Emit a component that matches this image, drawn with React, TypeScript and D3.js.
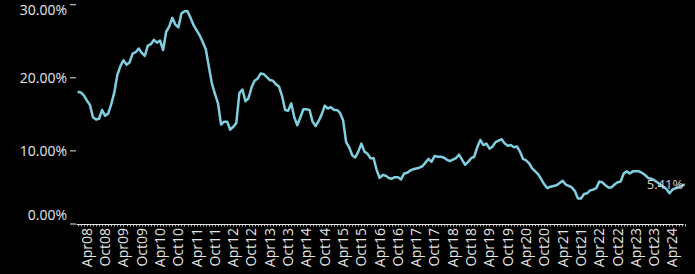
import { useEffect, useRef } from 'react';
import * as d3 from 'd3';

// monthly values, Jan 2008 .. Aug 2024 (in %)
const values = [
  18.1, 18.0, 17.6, 16.9, 16.3, 14.6, 14.3, 14.4, 15.6, 14.8, 15.1, 16.4,
  18.0, 20.4, 21.6, 22.4, 21.8, 22.1, 23.3, 23.5, 24.0, 23.4, 23.0, 24.4,
  24.6, 25.2, 24.8, 25.1, 23.8, 26.3, 27.0, 28.2, 27.3, 26.9, 28.8, 29.1,
  29.1, 28.2, 27.2, 26.5, 25.8, 24.9, 23.9, 21.5, 19.2, 17.8, 16.5, 13.6,
  14.0, 14.0, 12.9, 13.3, 13.8, 17.9, 18.4, 16.8, 17.2, 18.7, 19.6, 19.9,
  20.6, 20.5, 20.1, 19.7, 19.6, 19.1, 18.8, 17.5, 15.6, 15.5, 16.5, 14.6,
  13.5, 14.6, 15.7, 15.7, 15.6, 14.0, 13.4, 14.1, 15.0, 16.2, 15.8, 16.0,
  15.6, 15.6, 15.2, 14.2, 11.2, 10.5, 9.4, 9.1, 9.9, 11.0, 9.9, 9.6,
  9.0, 9.0, 7.4, 6.3, 6.7, 6.6, 6.3, 6.2, 6.4, 6.4, 6.1, 6.9,
  7.0, 7.3, 7.5, 7.6, 7.7, 7.9, 8.4, 8.9, 8.5, 9.3, 9.2, 9.2,
  9.1, 8.8, 8.6, 8.8, 9.0, 9.5, 8.8, 8.1, 8.5, 9.0, 9.2, 10.5,
  11.5, 10.8, 11.0, 10.3, 10.6, 11.2, 11.4, 11.6, 11.0, 10.7, 10.8, 10.5,
  10.6, 9.9, 8.9, 8.7, 8.3, 7.6, 7.2, 6.8, 6.1, 5.4, 4.9, 5.1,
  5.2, 5.3, 5.6, 5.9, 5.4, 5.2, 5.0, 4.5, 3.5, 3.5, 4.1, 4.2,
  4.6, 4.7, 4.9, 5.8, 5.7, 5.3, 5.0, 5.0, 5.4, 5.7, 5.8, 6.9,
  7.2, 6.9, 7.2, 7.2, 7.2, 7.0, 6.7, 6.3, 6.2, 6.0, 5.7, 5.4,
  5.1, 4.8, 4.2, 4.7, 4.9, 5.0, 5.2, 5.41,
];
const startDate = new Date(2008, 0, 1);
const yTicks = [0, 10, 20, 30];
const labelMonths = [3, 9]; // Apr, Oct

const width = 695;
const height = 274;
const left = 77.7;
const right = 684.7;
const top = 4.7;
const bottom = 224;
const lineColor = '#80cfe0';
const textColor = '#e6e6e6';
const font = "'Open Sans', sans-serif";

const App = () => {
  const svgRef = useRef<SVGSVGElement>(null!);

  useEffect(() => {
    const svg = d3.select(svgRef.current);
    svg.selectAll('*').remove();

    const months = values.map((_, i) => d3.timeMonth.offset(startDate, i));
    const x = d3.scaleLinear().domain([0, values.length - 1]).range([left, right]);
    const y = d3.scaleLinear().domain([0, 30]).range([bottom, top]);
    const fmtY = d3.format('.2f');
    const fmtX = d3.timeFormat('%b%y');

    // y axis
    const gy = svg.append('g').attr('transform', `translate(76,0)`);
    yTicks.forEach(t => {
      gy.append('line')
        .attr('x1', -6)
        .attr('x2', 0)
        .attr('y1', y(t))
        .attr('y2', y(t))
        .attr('stroke', textColor)
        .attr('stroke-width', 1);
      gy.append('text')
        .attr('x', -9)
        .attr('y', Math.min(Math.max(y(t), 10), 215))
        .attr('dy', '0.35em')
        .attr('text-anchor', 'end')
        .attr('fill', textColor)
        .attr('font-family', font)
        .attr('font-size', 14)
        .text(fmtY(t) + '%');
    });

    // x axis
    const gx = svg.append('g');
    gx.append('line')
      .attr('x1', 76.5)
      .attr('x2', right - 1)
      .attr('y1', bottom + 0.5)
      .attr('y2', bottom + 0.5)
      .attr('stroke', textColor);
    gx.selectAll('line.tick')
      .data(months)
      .enter()
      .append('line')
      .attr('class', 'tick')
      .attr('x1', (_, i) => Math.round(x(i)) + 0.5)
      .attr('x2', (_, i) => Math.round(x(i)) + 0.5)
      .attr('y1', bottom)
      .attr('y2', bottom + 2.5)
      .attr('stroke', textColor)
      .attr('stroke-width', 0.8);
    gx.selectAll('text')
      .data(months.map((d, i) => ({ d, i })).filter(o => labelMonths.includes(o.d.getMonth())))
      .enter()
      .append('text')
      .attr('transform', o => `translate(${x(o.i)},${bottom + 4}) rotate(-90)`)
      .attr('dy', '0.35em')
      .attr('text-anchor', 'end')
      .attr('fill', textColor)
      .attr('font-family', font)
      .attr('font-size', 14)
      .text(o => fmtX(o.d));

    // line
    const line = d3
      .line<number>()
      .x((_, i) => x(i))
      .y(d => y(d))
      .curve(d3.curveLinear);
    svg
      .append('path')
      .datum(values)
      .attr('d', line)
      .attr('fill', 'none')
      .attr('stroke', lineColor)
      .attr('stroke-width', 2.5)
      .attr('stroke-linejoin', 'round');

    // last value label
    const last = values.length - 1;
    svg
      .append('text')
      .attr('x', right - 1.5)
      .attr('y', y(values[last]))
      .attr('dy', '0.35em')
      .attr('text-anchor', 'end')
      .attr('fill', '#d0d0d0')
      .attr('font-family', font)
      .attr('font-size', 13)
      .text(values[last].toFixed(2) + '%');
  }, []);

  return (
    <svg
      ref={svgRef}
      width={width}
      height={height}
      style={{ position: 'absolute', left: 0, top: 0, background: '#000', display: 'block' }}
    ></svg>
  );
};

export default App;
